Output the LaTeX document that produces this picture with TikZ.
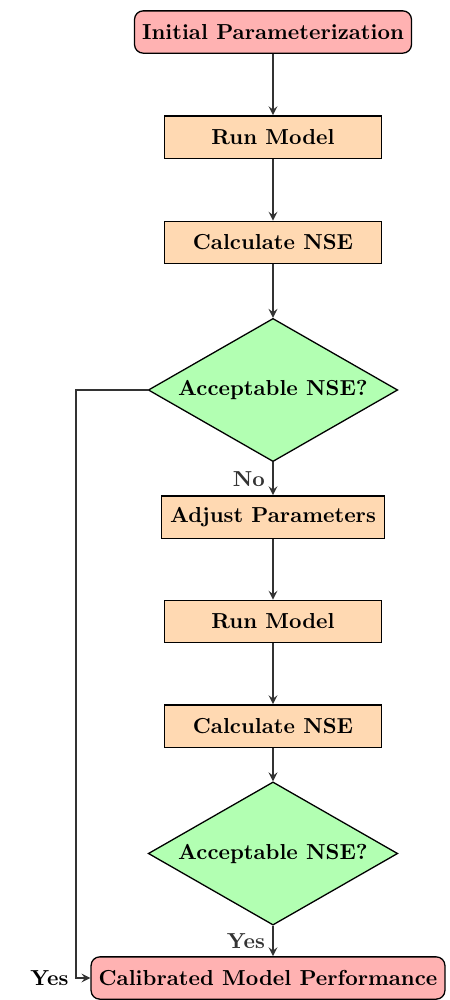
\documentclass[tikz,border=0pt]{standalone}
\usetikzlibrary{shapes.geometric}
\tikzset{
  startstop/.style={rectangle, rounded corners, draw, semithick, fill=red!30, font=\bfseries, minimum height=19.5pt, inner xsep=3.5pt},
  process/.style={rectangle, draw, semithick, fill=orange!30, font=\bfseries, minimum width=100pt, minimum height=19.5pt, inner xsep=4pt},
  decision/.style={diamond, draw, semithick, fill=green!30, font=\bfseries, shape aspect=1.75, inner sep=1pt, minimum width=115pt, minimum height=66pt},
  arrow/.style={thick, ->, >=stealth, black!80}
}
\begin{document}
\begin{tikzpicture}[x=0.461pt, y=0.461pt]
                \useasboundingbox (0,0) rectangle (449,-1000);
                \node [startstop] (init) at (273,-32) {Initial Parameterization};
                \node [process] (run1) at (273,-137) {Run Model};
                \node [process] (calc1) at (273,-242.5) {Calculate NSE};
                \node [decision] (dec1) at (273,-390) {Acceptable NSE?};
                \node [process] (adjust) at (273,-517) {Adjust Parameters};
                \node [process] (run2) at (273,-621.5) {Run Model};
                \node [process] (calc2) at (273,-726) {Calculate NSE};
                \node [decision] (dec2) at (273,-853.5) {Acceptable NSE?};
                \node [startstop] (final) at (268,-978) {Calibrated Model Performance};
                \coordinate (corner) at (76,-978);
                % main line
                \draw [arrow] (init) -- (run1);
                \draw [arrow] (run1) -- (calc1);
                \draw [arrow] (calc1) -- (dec1);
                \draw [arrow] (dec1) -- node [left, font=\bfseries] {No} (adjust);
                \draw [arrow] (adjust) -- (run2);
                \draw [arrow] (run2) -- (calc2);
                \draw [arrow] (calc2) -- (dec2);
                \draw [arrow] (dec2.south) -- node [left, font=\bfseries] {Yes} (dec2.south |- final.north);
                % shortcut
                \draw [arrow] (dec1.west) -| (corner) -- (final.west);
                \node [left, font=\bfseries] (yes1) at (corner) {Yes};
            \end{tikzpicture}
\end{document}
